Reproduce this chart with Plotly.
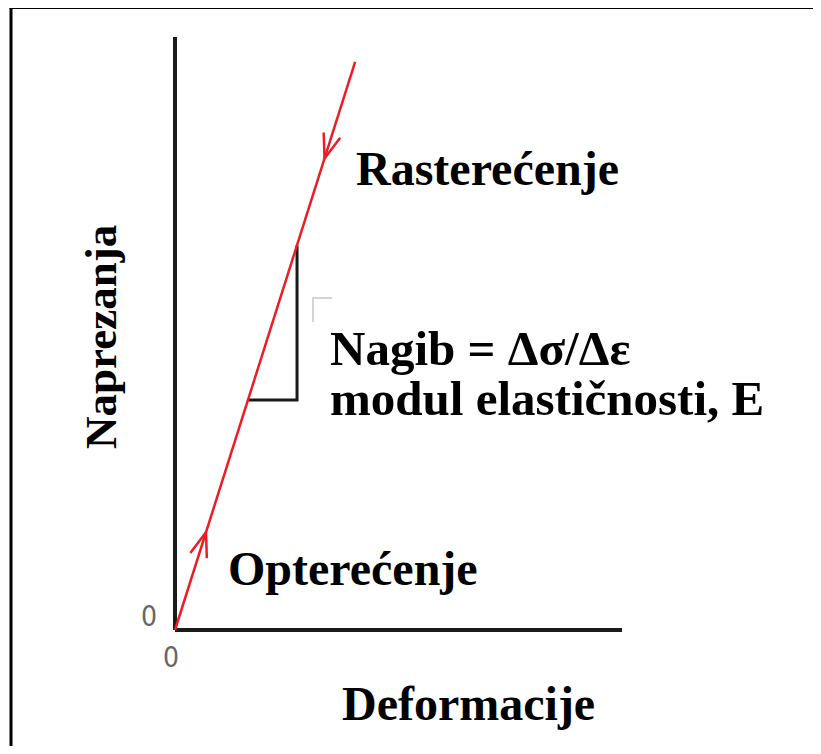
import math
import plotly.graph_objects as go

# ---- data (arbitrary units) ----
axis_strain = [0, 10.0]          # x axis extent (Deformacije)
axis_stress = [0, 10.0]          # y axis extent (Naprezanja)
line_strain = [0, 4.03]          # loading/unloading line
line_stress = [0, 9.58]
tri_strain = [1.63, 2.73, 2.73]  # slope triangle
tri_stress = [3.88, 3.88, 6.49]
labels = ["Rasterećenje", "Nagib = Δσ/Δε", "modul elastičnosti, E", "Opterećenje"]
axis_titles = ["Deformacije", "Naprezanja"]
origin_ticks = ["0", "0"]

OFF = 8                     # page body margin
W, H = 821 - 2 * OFF, 754 - 2 * OFF
OX, OY = 175, 630           # reference pixel of origin
SX, SY = 44.7, 59.3         # px per unit


def dx(px):
    return (px - OX) / SX


def dy(py):
    return (OY - py) / SY


fig = go.Figure()

# axes
fig.add_trace(go.Scatter(x=[axis_strain[0], axis_strain[0]], y=[axis_stress[0], axis_stress[1]],
                         mode="lines", line=dict(color="#1a1a1a", width=4), hoverinfo="skip"))
fig.add_trace(go.Scatter(x=[axis_strain[0], axis_strain[1]], y=[axis_stress[0], axis_stress[0]],
                         mode="lines", line=dict(color="#1a1a1a", width=4), hoverinfo="skip"))
# triangle
fig.add_trace(go.Scatter(x=tri_strain, y=tri_stress, mode="lines",
                         line=dict(color="#1a1a1a", width=3), hoverinfo="skip"))
# red line
fig.add_trace(go.Scatter(x=line_strain, y=line_stress, mode="lines",
                         line=dict(color="#ee1c24", width=2.5), hoverinfo="skip"))


def chevron(t, direction):
    e = line_strain[1] * t
    s = line_stress[1] * t
    px, py = OX + e * SX, OY - s * SY
    ang = math.atan2(-(line_stress[1] * SY), line_strain[1] * SX)
    if direction < 0:
        ang += math.pi
    L = 26
    spread = 0.34
    pts = []
    for sgn in (-1, 1):
        a = ang + math.pi + sgn * spread
        pts.append((px + L * math.cos(a), py + L * math.sin(a)))
    xs = [dx(pts[0][0]), dx(px), dx(pts[1][0])]
    ys = [dy(pts[0][1]), dy(py), dy(pts[1][1])]
    fig.add_trace(go.Scatter(x=xs, y=ys, mode="lines",
                             line=dict(color="#ee1c24", width=2.5), hoverinfo="skip"))


chevron(0.172, 1)
chevron(0.83, -1)

# faint leftover corner
fig.add_trace(go.Scatter(x=[dx(313), dx(313), dx(332)], y=[dy(322), dy(298), dy(298)], mode="lines",
                         line=dict(color="#c8c8c8", width=1.5), hoverinfo="skip"))

font_b = dict(family="Liberation Serif, Times New Roman, serif", size=48, color="black")


def label(text, x, y, size=48):
    f = dict(font_b, size=size)
    fig.add_annotation(x=dx(x), y=dy(y), text="<b>%s</b>" % text, showarrow=False,
                       xanchor="left", yanchor="middle", font=f)


label(labels[0], 354, 168)
label(labels[1], 328, 348, 49)
label(labels[2], 328, 398, 49)
label(labels[3], 226, 568)
fig.add_annotation(x=dx(468), y=dy(703), text="<b>%s</b>" % axis_titles[0], showarrow=False,
                   xanchor="center", yanchor="middle", font=font_b)
fig.add_annotation(x=dx(101), y=dy(337), text="<b>%s</b>" % axis_titles[1], showarrow=False,
                   xanchor="center", yanchor="middle",
                   font=dict(family="Liberation Serif, Times New Roman, serif", size=45, color="black"),
                   textangle=-90)

gray = dict(family="DejaVu Sans Condensed, DejaVu Sans, sans-serif", size=28, color="#666666")
fig.add_annotation(x=dx(149), y=dy(616), text=origin_ticks[0], showarrow=False, font=gray)
fig.add_annotation(x=dx(171), y=dy(657), text=origin_ticks[1], showarrow=False, font=gray)

# outer frame (only top and left edges visible in the reference)
fx = (11 - OFF) / W
fy = 1 - (7.5 - OFF) / H
fig.add_shape(type="line", xref="paper", yref="paper", x0=fx, x1=fx, y0=-0.01, y1=fy,
              line=dict(color="black", width=3))
fig.add_shape(type="line", xref="paper", yref="paper", x0=fx - 0.002, x1=1.01, y0=fy, y1=fy,
              line=dict(color="black", width=3))

fig.update_layout(width=W, height=H, margin=dict(l=0, r=0, t=0, b=0),
                  plot_bgcolor="white", paper_bgcolor="white", showlegend=False,
                  xaxis=dict(range=[dx(OFF), dx(OFF + W)], visible=False, fixedrange=True),
                  yaxis=dict(range=[dy(OFF + H), dy(OFF)], visible=False, fixedrange=True))

fig.write_html("out.html")
